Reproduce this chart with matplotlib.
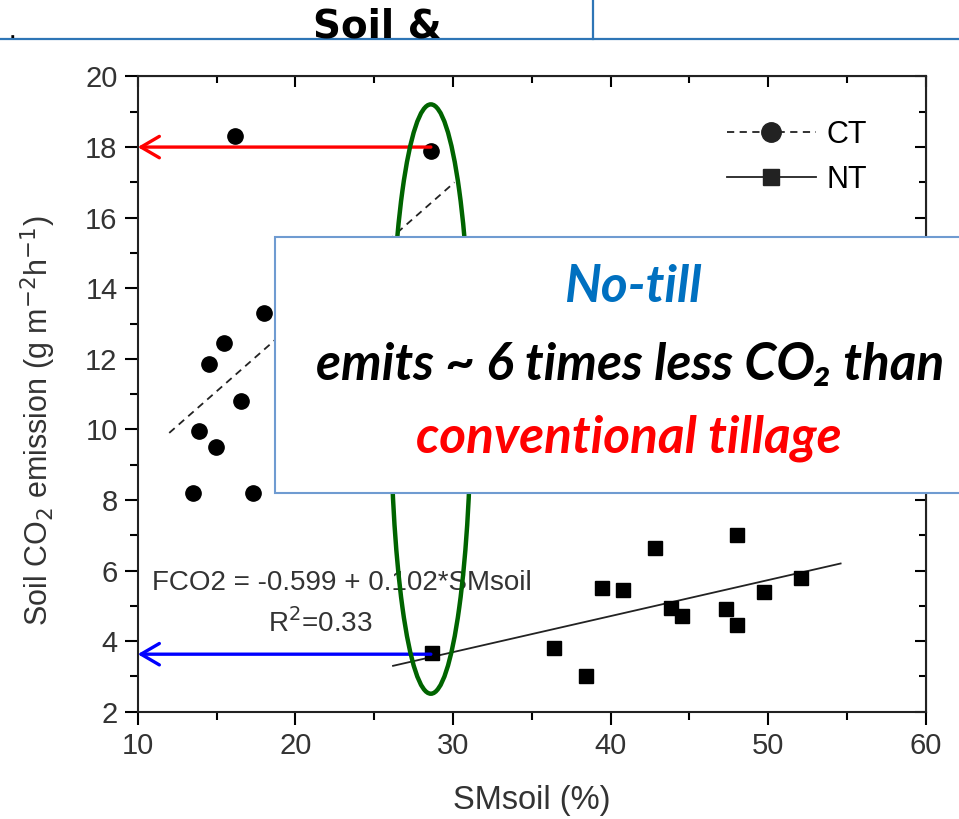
import matplotlib
matplotlib.use('Agg')
import matplotlib.pyplot as plt
from matplotlib.patches import Ellipse, Rectangle
from matplotlib.lines import Line2D
from matplotlib.ticker import MultipleLocator

# conventional tillage (CT) points that are not hidden by the text box
ct_sm = [16.2, 28.6, 18.0, 15.5, 14.5, 16.55, 13.9, 14.95, 13.5, 17.3]
ct_co2 = [18.3, 17.9, 13.3, 12.45, 11.85, 10.8, 9.95, 9.5, 8.2, 8.2]
ct_fit_sm = [12.0, 30.1]
ct_fit_co2 = [9.9, 17.0]

# no-till (NT) points
nt_sm = [28.65, 36.4, 38.45, 39.45, 40.8, 42.85, 48.0, 43.85, 44.55, 47.35, 48.0, 49.75, 52.1]
nt_co2 = [3.65, 3.8, 3.0, 5.5, 5.45, 6.65, 7.0, 4.95, 4.7, 4.9, 4.45, 5.4, 5.8]
nt_fit_sm = [26.2, 54.6]
nt_fit_co2 = [3.3, 6.2]

sm_mark = 28.6
ct_level = 18.0
nt_level = 3.63

plt.rcParams['font.family'] = ['Liberation Sans', 'DejaVu Sans']

fig = plt.figure(figsize=(9.59, 8.19), dpi=100)
ax = fig.add_axes([0.1436, 0.131, 0.8217, 0.7756])

ax.plot(ct_fit_sm, ct_fit_co2, ls=(0, (4, 3)), color='#222222', lw=1.3)
ax.plot(nt_fit_sm, nt_fit_co2, ls='-', color='#222222', lw=1.3)
ax.plot(ct_sm, ct_co2, 'o', color='black', ms=11, zorder=3)
ax.plot(nt_sm, nt_co2, 's', color='black', ms=10, zorder=3)

ax.set_xlim(10, 60)
ax.set_ylim(2, 20)
ax.xaxis.set_major_locator(MultipleLocator(10))
ax.xaxis.set_minor_locator(MultipleLocator(5))
ax.yaxis.set_major_locator(MultipleLocator(2))
ax.yaxis.set_minor_locator(MultipleLocator(1))
ax.tick_params(which='major', direction='out', length=9.5, width=1.5, labelsize=21,
               labelcolor='#333333', pad=5)
ax.tick_params(which='minor', direction='out', length=6, width=1.5)
for s in ax.spines.values():
    s.set_linewidth(1.5)
    s.set_color('#222222')

# ticks pointing inwards on top and right
top = ax.secondary_xaxis('top')
top.xaxis.set_major_locator(MultipleLocator(10))
top.xaxis.set_minor_locator(MultipleLocator(5))
top.tick_params(which='both', direction='in', labeltop=False, width=1.5)
top.tick_params(which='major', length=8)
top.tick_params(which='minor', length=5)
right = ax.secondary_yaxis('right')
right.yaxis.set_major_locator(MultipleLocator(2))
right.yaxis.set_minor_locator(MultipleLocator(1))
right.tick_params(which='both', direction='in', labelright=False, width=1.5)
right.tick_params(which='major', length=8)
right.tick_params(which='minor', length=5)

ax.set_xlabel('SMsoil (%)', fontsize=23.5, color='#333333')
ax.xaxis.set_label_coords(0.5, -0.115)
ax.set_ylabel('Soil CO$_2$ emission (g m$^{-2}$h$^{-1}$)', fontsize=22, color='#333333')
ax.yaxis.set_label_coords(-0.101, 0.458)

ax.text(10.9, 5.65, 'FCO2 = -0.599 + 0.102*SMsoil', fontsize=20, color='#333333',
        va='center', ha='left')
ax.text(21.6, 4.5, 'R$^2$=0.33', fontsize=20, color='#333333', va='center', ha='center')

handles = [Line2D([], [], ls=(0, (4, 3)), color='#222222', marker='o', ms=14, lw=1.3),
           Line2D([], [], ls='-', color='#222222', marker='s', ms=12, lw=1.3)]
ax.legend(handles, ['CT', 'NT'], loc='upper left', bbox_to_anchor=(0.748, 0.932),
          frameon=False, fontsize=22, handlelength=2.9, handletextpad=0.35,
          labelspacing=0.5, borderpad=0, borderaxespad=0)

# arrows from the circled points to the y axis
ax.annotate('', xy=(10, ct_level), xytext=(sm_mark, ct_level), annotation_clip=False,
            arrowprops=dict(arrowstyle='->,head_length=0.6,head_width=0.35', color='red',
                            lw=2.4, shrinkA=0, shrinkB=0, mutation_scale=22), zorder=4)
ax.annotate('', xy=(10, nt_level), xytext=(sm_mark, nt_level), annotation_clip=False,
            arrowprops=dict(arrowstyle='->,head_length=0.6,head_width=0.35', color='blue',
                            lw=2.4, shrinkA=0, shrinkB=0, mutation_scale=22), zorder=4)

ax.add_patch(Ellipse((sm_mark, 10.86), width=5.1, height=16.7, fill=False,
                     edgecolor='#006400', lw=3.2, zorder=5))

# text box over the chart
fig.patches.append(Rectangle((0.2868, 0.398), 0.75, 0.3126, transform=fig.transFigure,
                             facecolor='white', edgecolor='#6F9BD1', lw=1.5, zorder=10))
box_font = dict(family=['Lato', 'DejaVu Sans'], fontweight='bold', style='italic',
                ha='center', va='baseline', zorder=11)
fig.text(0.66, 1 - 302 / 819, 'No-till', color='#0070C0', fontsize=37, **box_font)
fig.text(0.657, 1 - 380 / 819, 'emits ~ 6 times less CO\u2082 than', color='black',
         fontsize=37, **box_font)
fig.text(0.656, 1 - 452 / 819, 'conventional tillage', color='red', fontsize=37, **box_font)

# slide header remains
fig.add_artist(Line2D([0, 1], [0.9524, 0.9524], transform=fig.transFigure,
                      color='#2E75B6', lw=1.6))
fig.add_artist(Line2D([0.6184, 0.6184], [0.9524, 1.0], transform=fig.transFigure,
                      color='#2E75B6', lw=1.6))
fig.text(0.326, 1 - 38 / 819, 'Soil &', fontsize=28, fontweight='bold',
         family=['Liberation Sans Narrow', 'DejaVu Sans'], va='baseline', ha='left')
fig.text(0.01, 1 - 38 / 819, '.', fontsize=14, fontweight='bold', va='baseline')

fig.savefig('out.png', dpi=100)
